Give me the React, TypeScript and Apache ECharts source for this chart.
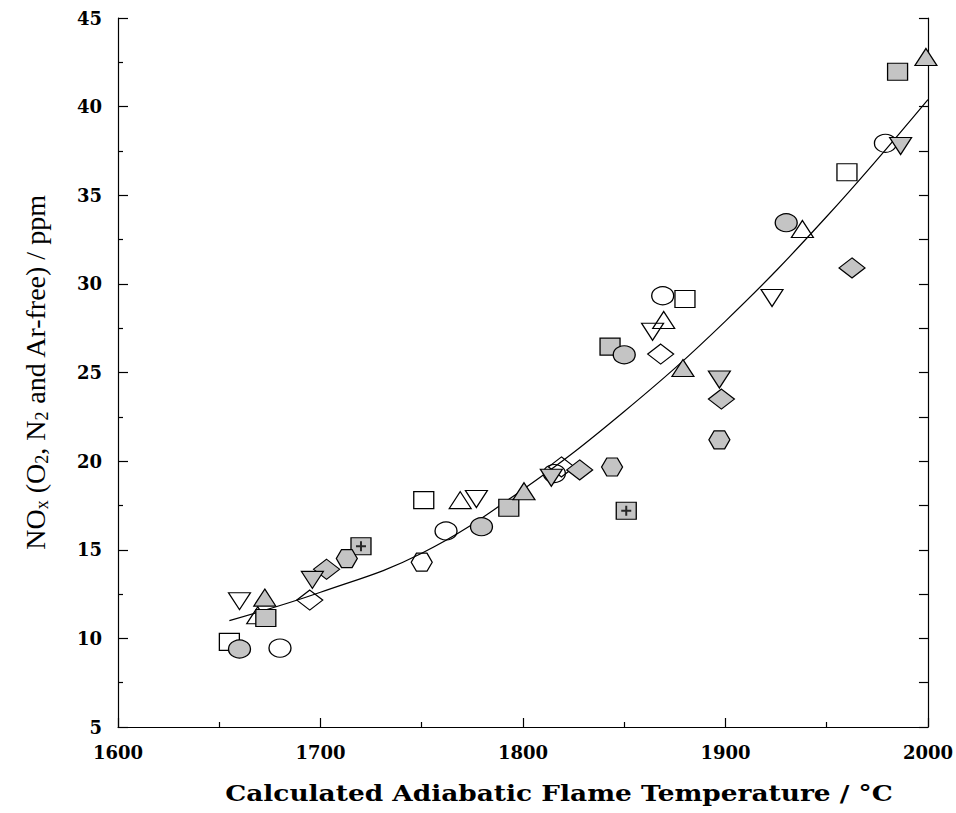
import React, { useEffect, useRef } from "react";
import * as echarts from "echarts";

// Fitted curve
const curveT = [1655, 1700, 1750, 1800, 1850, 1900, 1950, 2000];
const curveNOx = [11.0, 12.6, 14.8, 18.4, 22.8, 27.9, 33.8, 40.4];

// Measurements [temperature °C, NOx ppm]
const hollowSquare = [[1655, 9.8], [1751, 17.8], [1880, 29.15], [1960, 36.3]];
const shadedSquare = [[1673, 11.15], [1793, 17.37], [1843, 26.46], [1985, 41.97]];
const plusSquare = [[1720, 15.2], [1851, 17.2]];
const hollowCircle = [[1680, 9.45], [1762, 16.06], [1815.5, 19.3], [1869, 29.33], [1979, 37.93]];
const shadedCircle = [[1660, 9.4], [1779.5, 16.3], [1850, 26.0], [1930, 33.45]];
const hollowUp = [[1669, 11.3], [1769, 17.8], [1869.5, 27.96], [1938, 33.1]];
const shadedUp = [[1672.5, 12.3], [1800.5, 18.3], [1879, 25.25], [1999, 42.8]];
const hollowDown = [[1660, 12.1], [1777, 17.86], [1864, 27.3], [1923, 29.2]];
const shadedDown = [[1696, 13.3], [1814, 19.06], [1897, 24.6], [1986.5, 37.78]];
const hollowDiamond = [[1694.7, 12.16], [1819, 19.67], [1868, 26.04]];
const shadedDiamond = [[1703, 13.9], [1828, 19.5], [1898, 23.5], [1962.5, 30.9]];
const hollowHexagon = [[1750, 14.3]];
const shadedHexagon = [[1713, 14.5], [1844, 19.67], [1897, 21.2]];

const xMin = 1600, xMax = 2000, xStep = 100;
const yMin = 5, yMax = 45, yStep = 5;

const SHADE = "#c4c4c4";
const DOWN = "path://M0,0L2,0L1,1.6Z";
const HEX = "path://M1,0L3,0L4,1.73L3,3.46L1,3.46L0,1.73Z";
const PLUS = "path://M4,0H6V4H10V6H6V10H4V6H0V4H4Z";

function mk(name: string, data: number[][], symbol: string, size: number[], filled: boolean, z: number) {
  return {
    type: "scatter",
    name,
    data,
    symbol,
    symbolSize: size,
    silent: true,
    z,
    itemStyle: {
      color: filled ? SHADE : "rgba(0,0,0,0)",
      borderColor: "#000",
      borderWidth: 1.2,
      opacity: 1,
    },
  };
}

export default function App() {
  const ref = useRef<HTMLDivElement>(null);
  useEffect(() => {
    if (!ref.current) return;
    const chart = echarts.init(ref.current, null, { renderer: "svg" });
    const labelFont = { fontFamily: "DejaVu Serif", fontWeight: "bold", fontSize: 18, color: "#000" };
    const axisLine = { show: true, lineStyle: { color: "#000", width: 1.2 } };
    chart.setOption({
      animation: false,
      backgroundColor: "#fff",
      grid: { left: 118, right: 27, top: 18, bottom: 86, containLabel: false },
      xAxis: {
        type: "value",
        min: xMin,
        max: xMax,
        interval: xStep,
        axisLine,
        axisTick: { show: true, inside: true, length: 9, lineStyle: { color: "#000", width: 1.2 } },
        minorTick: { show: true, splitNumber: 2, length: 5, lineStyle: { color: "#000", width: 1.2 } },
        splitLine: { show: false },
        axisLabel: { ...labelFont, margin: 16, formatter: (v: number) => String(v) },
      },
      yAxis: [
        {
          type: "value",
          min: yMin,
          max: yMax,
          interval: yStep,
          axisLine,
          axisTick: { show: true, inside: true, length: 10, lineStyle: { color: "#000", width: 1.2 } },
          minorTick: { show: true, splitNumber: 2, length: 5, lineStyle: { color: "#000", width: 1.2 } },
          splitLine: { show: false },
          axisLabel: { ...labelFont, margin: 16, formatter: (v: number) => String(v) },
        },
        {
          type: "value",
          position: "right",
          min: yMin,
          max: yMax,
          interval: yStep / 2,
          axisLine,
          axisTick: { show: true, inside: true, length: 9, lineStyle: { color: "#000", width: 1.2 } },
          splitLine: { show: false },
          axisLabel: { show: false },
        },
      ],
      graphic: [
        {
          type: "text",
          x: 559,
          y: 793,
          scaleX: 1.2,
          style: {
            text: "Calculated Adiabatic Flame Temperature / °C",
            fontFamily: "DejaVu Serif",
            fontWeight: "bold",
            fontSize: 22,
            fill: "#000",
            align: "center",
            verticalAlign: "middle",
          },
        },
        {
          type: "text",
          x: 36,
          y: 372,
          rotation: Math.PI / 2,
          style: {
            text: "{a|NO}{s|x}{a| (O}{s|2}{a|, N}{s|2}{a| and Ar-free) / ppm}",
            fill: "#000",
            align: "center",
            verticalAlign: "middle",
            rich: {
              a: { fontFamily: "Liberation Serif", fontSize: 28, lineHeight: 29, verticalAlign: "top", fill: "#000" },
              s: { fontFamily: "Liberation Serif", fontSize: 18, lineHeight: 18, padding: [16, 0, 0, 0], verticalAlign: "bottom", fill: "#000" },
            },
          },
        },
      ],
      series: [
        {
          type: "line",
          data: curveT.map((t, i) => [t, curveNOx[i]]),
          smooth: 0.4,
          showSymbol: false,
          symbol: "none",
          silent: true,
          z: 1,
          lineStyle: { color: "#000", width: 1.2 },
        },
        mk("hollow square", hollowSquare, "rect", [20, 17], false, 3),
        mk("hollow circle", hollowCircle, "circle", [22, 18], false, 3),
        mk("hollow up", hollowUp, "triangle", [22, 17], false, 3),
        mk("hollow down", hollowDown, DOWN, [22, 17], false, 3),
        mk("hollow diamond", hollowDiamond, "diamond", [26, 20], false, 3),
        mk("hollow hexagon", hollowHexagon, HEX, [21, 18], false, 3),
        mk("shaded square", shadedSquare, "rect", [20, 17], true, 4),
        mk("plus square", plusSquare, "rect", [20, 17], true, 4),
        mk("shaded hexagon", shadedHexagon, HEX, [21, 18], true, 4),
        mk("shaded circle", shadedCircle, "circle", [22, 18], true, 5),
        mk("shaded up", shadedUp, "triangle", [22, 17], true, 5),
        mk("shaded diamond", shadedDiamond, "diamond", [26, 20], true, 5),
        mk("shaded down", shadedDown, DOWN, [22, 17], true, 6),
        {
          type: "scatter",
          name: "plus mark",
          data: plusSquare,
          symbol: PLUS,
          symbolSize: [10, 10],
          silent: true,
          z: 7,
          itemStyle: { color: "#000", borderWidth: 0 },
        },
      ],
    });
    return () => chart.dispose();
  }, []);
  return <div ref={ref} style={{ position: "fixed", left: 0, top: 0, width: 956, height: 813, background: "#fff" }} />;
}
